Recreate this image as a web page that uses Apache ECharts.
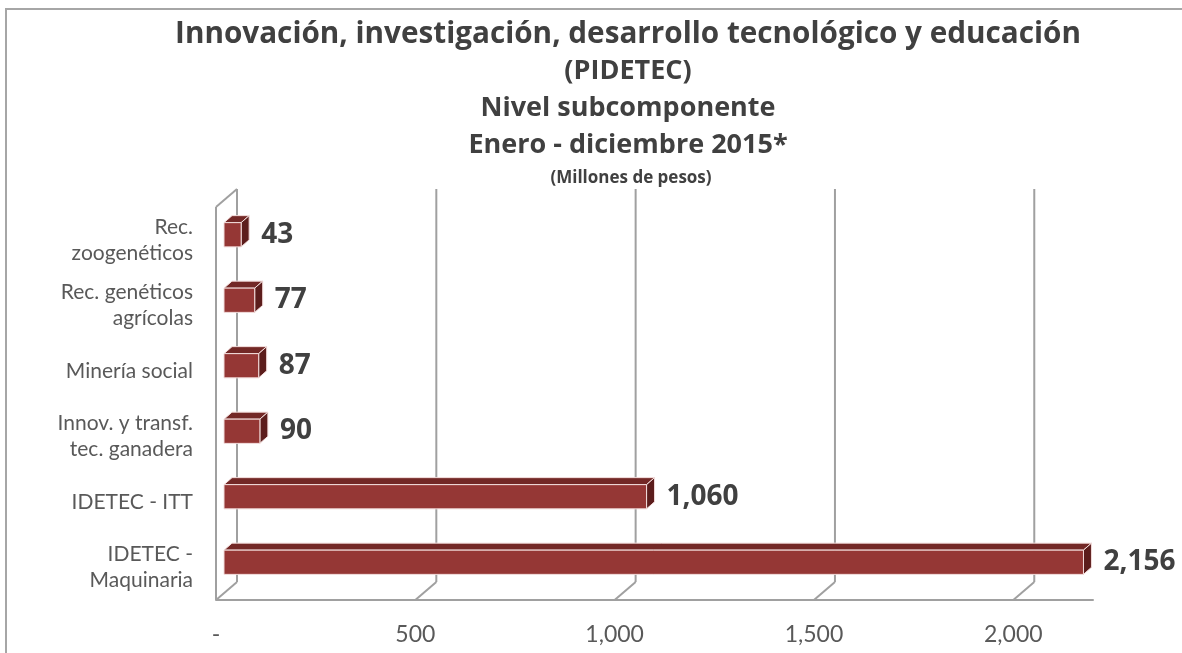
<!DOCTYPE html>
<html>
<head>
<meta charset="utf-8">
<script src="https://cdn.jsdelivr.net/npm/echarts@6/dist/echarts.min.js"></script>
<style>
  html, body { margin: 0; padding: 0; background: #fff; }
  #chart { width: 1182px; height: 653px; }
</style>
</head>
<body>
<div id="chart"></div>
<script>
// datos
const categories = [
  'Rec.\nzoogenéticos',
  'Rec. genéticos\nagrícolas',
  'Minería social',
  'Innov. y transf.\ntec. ganadera',
  'IDETEC - ITT',
  'IDETEC -\nMaquinaria',
];
const values = [43, 77, 87, 90, 1060, 2156];
const gridTicks = [0, 500, 1000, 1500, 2000];
const titleLines = [
  'Innovación, investigación, desarrollo tecnológico y educación',
  '(PIDETEC)',
  'Nivel subcomponente',
  'Enero - diciembre 2015*',
];
const unitsLine = '(Millones de pesos)';

// efecto 3D (pixeles)
const DX = 21;
const DY = -18;
const BX = 8; // cara frontal de la barra
const BY = -5;
const BDX = 8; // grosor de la barra
const BDY = -7;

const GRID_COLOR = '#a0a0a0';
const TEXT_COLOR = '#404040';

function fmt(v) {
  return v === 0 ? '-' : v.toLocaleString('en-US');
}

const chart = echarts.init(document.getElementById('chart'));

const titleGraphics = titleLines.map((t, i) => ({
  type: 'text',
  x: 628,
  y: 35 + i * 36.7,
  style: {
    text: t,
    align: 'center',
    verticalAlign: 'middle',
    fontFamily: 'Open Sans',
    fontWeight: 'bold',
    fontSize: i === 0 ? 29.7 : 27,
    fill: TEXT_COLOR,
  },
}));
titleGraphics.push({
  type: 'text',
  x: 631,
  y: 178,
  style: {
    text: unitsLine,
    align: 'center',
    verticalAlign: 'middle',
    fontFamily: 'Open Sans',
    fontWeight: 'bold',
    fontSize: 17,
    fill: TEXT_COLOR,
  },
});

function line(x1, y1, x2, y2) {
  return {
    type: 'line',
    shape: { x1, y1, x2, y2 },
    style: { stroke: GRID_COLOR, lineWidth: 2 },
  };
}

// paredes y lineas de division
function renderFrame(params, api) {
  const cs = params.coordSys;
  const top = cs.y;
  const bottom = cs.y + cs.height;
  const x = api.coord([api.value(0), 0])[0];
  const children = [
    line(x + DX, top + DY, x + DX, bottom + DY),
    line(x + DX, bottom + DY, x, bottom),
  ];
  if (api.value(0) === 0) {
    children.push(line(x, top, x, bottom));
    children.push(line(x, top, x + DX, top + DY));
  }
  return { type: 'group', children };
}

// barras 3D
function renderBar(params, api) {
  const v = api.value(0);
  const idx = api.value(1);
  const s = api.coord([0, idx]);
  const e = api.coord([v, idx]);
  const h = api.size([0, 1])[1] * 0.37;
  const x0 = s[0] + BX;
  const x1 = e[0] + BX;
  const yc = s[1] + BY;
  const y0 = yc - h / 2;
  const y1 = yc + h / 2;
  const stroke = '#f2dcdb';
  return {
    type: 'group',
    children: [
      {
        type: 'polygon',
        shape: { points: [[x0, y0], [x1, y0], [x1 + BDX, y0 + BDY], [x0 + BDX, y0 + BDY]] },
        style: { fill: '#732826', stroke, lineWidth: 1 },
      },
      {
        type: 'polygon',
        shape: { points: [[x1, y0], [x1 + BDX, y0 + BDY], [x1 + BDX, y1 + BDY], [x1, y1]] },
        style: { fill: '#5c1d1c', stroke, lineWidth: 1 },
      },
      {
        type: 'rect',
        shape: { x: x0, y: y0, width: x1 - x0, height: h },
        style: { fill: '#953735', stroke, lineWidth: 1 },
      },
      {
        type: 'text',
        x: x1 + 20,
        y: yc,
        style: {
          text: fmt(v),
          align: 'left',
          verticalAlign: 'middle',
          fontFamily: 'Open Sans',
          fontWeight: 'bold',
          fontSize: 28,
          fill: TEXT_COLOR,
        },
      },
    ],
  };
}

chart.setOption({
  animation: false,
  backgroundColor: '#fff',
  graphic: [
    {
      type: 'rect',
      shape: { x: 6, y: 9, width: 1400, height: 900 },
      style: { fill: 'none', stroke: '#a6a6a6', lineWidth: 2 },
      silent: true,
    },
  ].concat(titleGraphics),
  grid: { left: 216, right: 89, top: 207, bottom: 53 },
  xAxis: {
    type: 'value',
    min: 0,
    max: 2200,
    interval: 500,
    axisLine: { show: true, lineStyle: { color: GRID_COLOR, width: 2 } },
    axisTick: { show: false },
    splitLine: { show: false },
    axisLabel: {
      formatter: fmt,
      showMaxLabel: false,
      margin: 23,
      color: '#595959',
      fontSize: 23,
      fontFamily: 'Lato',
    },
  },
  yAxis: {
    type: 'category',
    inverse: true,
    data: categories,
    axisLine: { show: false },
    axisTick: { show: false },
    splitLine: { show: false },
    axisLabel: {
      margin: 23,
      color: '#595959',
      fontSize: 21,
      lineHeight: 26,
      fontFamily: 'Lato',
    },
  },
  series: [
    {
      type: 'custom',
      name: 'marco',
      z: 1,
      silent: true,
      renderItem: renderFrame,
      encode: { x: 0 },
      data: gridTicks.map((t) => [t]),
    },
    {
      type: 'custom',
      name: 'PIDETEC',
      z: 2,
      renderItem: renderBar,
      encode: { x: 0, y: 1 },
      data: values.map((v, i) => [v, i]),
    },
  ],
});
</script>
</body>
</html>
